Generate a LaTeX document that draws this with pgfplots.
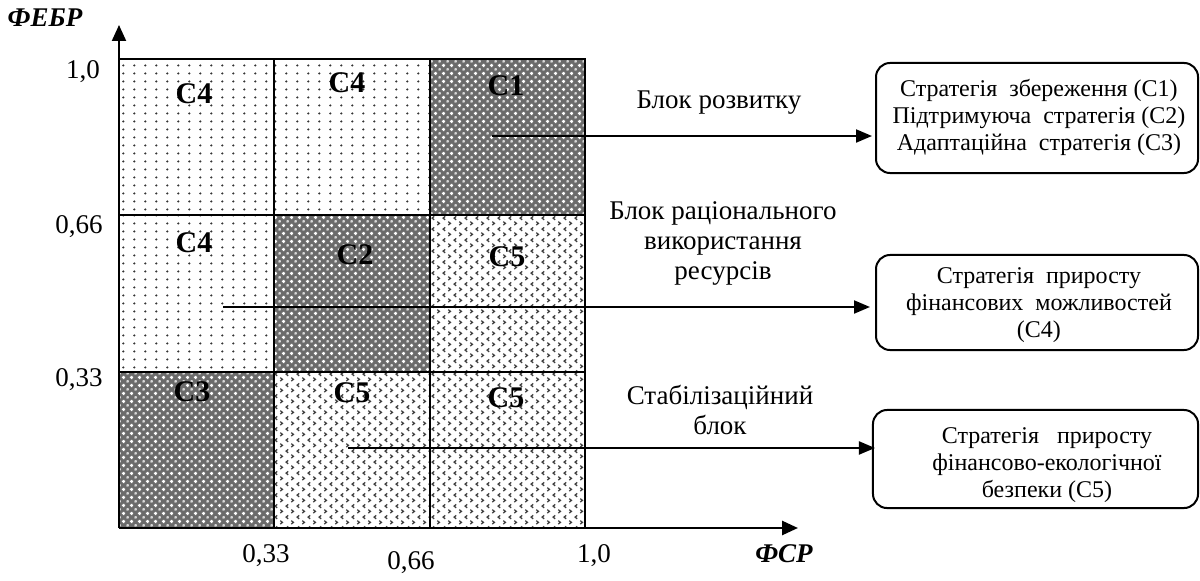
\documentclass[border=0pt]{standalone}
\usepackage{fontspec}
\setmainfont{Liberation Serif}
\usepackage{pgfplots}
\pgfplotsset{compat=1.18}
\usetikzlibrary{arrows.meta,patterns.meta}

\tikzdeclarepattern{name=dotgrid, type=uncolored,
  bounding box={(0pt,0pt) and (5.4pt,3.75pt)},
  tile size={(5.4pt,3.75pt)},
  code={\fill (2.7pt,1.875pt) circle (0.6pt);}}

\tikzdeclarepattern{name=wcross, type=uncolored,
  bounding box={(0pt,0pt) and (4pt,4pt)},
  tile size={(4pt,4pt)},
  code={\fill (1.55pt,1.1pt) rectangle (2.45pt,2.9pt);
        \fill (1.1pt,1.55pt) rectangle (2.9pt,2.45pt);
        \fill (0pt,0pt) circle (0.5pt); \fill (4pt,0pt) circle (0.5pt);
        \fill (0pt,4pt) circle (0.5pt); \fill (4pt,4pt) circle (0.5pt);}}

\tikzdeclarepattern{name=chevrons, type=uncolored,
  bounding box={(0pt,0pt) and (5.6pt,5.6pt)},
  tile size={(5.6pt,5.6pt)},
  code={\draw[line width=0.7pt] (0.7pt,0.5pt) -- (1.8pt,1.4pt) -- (0.7pt,2.3pt);
        \draw[line width=0.7pt] (4.9pt,3.3pt) -- (3.8pt,4.2pt) -- (4.9pt,5.1pt);}}

\begin{document}
\begin{tikzpicture}
\begin{axis}[scale only axis, width=600pt, height=285.5pt,
  xmin=-0.25536, xmax=2.31974, ymin=-0.09168, ymax=1.12580,
  axis lines=none, clip=false, no markers]
\path (rel axis cs:0,0) rectangle (rel axis cs:1,1);
% C4 cells (dotted)
\addplot[draw=black, line width=1pt, pattern=dotgrid, pattern color=black!80] coordinates {(0,0.6667) (0.3333,0.6667) (0.3333,1) (0,1) (0,0.6667)};
\addplot[draw=black, line width=1pt, pattern=dotgrid, pattern color=black!80] coordinates {(0.3333,0.6667) (0.6667,0.6667) (0.6667,1) (0.3333,1) (0.3333,0.6667)};
\addplot[draw=black, line width=1pt, pattern=dotgrid, pattern color=black!80] coordinates {(0,0.3333) (0.3333,0.3333) (0.3333,0.6667) (0,0.6667) (0,0.3333)};
% C1, C2, C3 cells (dark)
\addplot[draw=none, fill=black!58] coordinates {(0.6667,0.6667) (1,0.6667) (1,1) (0.6667,1) (0.6667,0.6667)};
\addplot[draw=black, line width=1pt, pattern=wcross, pattern color=white] coordinates {(0.6667,0.6667) (1,0.6667) (1,1) (0.6667,1) (0.6667,0.6667)};
\addplot[draw=none, fill=black!58] coordinates {(0.3333,0.3333) (0.6667,0.3333) (0.6667,0.6667) (0.3333,0.6667) (0.3333,0.3333)};
\addplot[draw=black, line width=1pt, pattern=wcross, pattern color=white] coordinates {(0.3333,0.3333) (0.6667,0.3333) (0.6667,0.6667) (0.3333,0.6667) (0.3333,0.3333)};
\addplot[draw=none, fill=black!58] coordinates {(0,0) (0.3333,0) (0.3333,0.3333) (0,0.3333) (0,0)};
\addplot[draw=black, line width=1pt, pattern=wcross, pattern color=white] coordinates {(0,0) (0.3333,0) (0.3333,0.3333) (0,0.3333) (0,0)};
% C5 cells (chevrons)
\addplot[draw=black, line width=1pt, pattern=chevrons, pattern color=black!75] coordinates {(0.6667,0.3333) (1,0.3333) (1,0.6667) (0.6667,0.6667) (0.6667,0.3333)};
\addplot[draw=black, line width=1pt, pattern=chevrons, pattern color=black!75] coordinates {(0.3333,0) (0.6667,0) (0.6667,0.3333) (0.3333,0.3333) (0.3333,0)};
\addplot[draw=black, line width=1pt, pattern=chevrons, pattern color=black!75] coordinates {(0.6667,0) (1,0) (1,0.3333) (0.6667,0.3333) (0.6667,0)};

% cell labels
\begin{scope}[every node/.style={font=\fontsize{15}{17}\selectfont\bfseries}]
\node at (axis cs:0.161,0.9254) {C4};
\node at (axis cs:0.4893,0.9488) {C4};
\node at (axis cs:0.8305,0.9424) {C1};
\node at (axis cs:0.161,0.6077) {C4};
\node at (axis cs:0.5064,0.5821) {C2};
\node at (axis cs:0.8326,0.5778) {C5};
\node at (axis cs:0.1567,0.2900) {C3};
\node at (axis cs:0.5,0.2878) {C5};
\node at (axis cs:0.8305,0.2772) {C5};
\end{scope}

% axes
\draw[line width=1.3pt, -{Triangle[length=8pt,width=7pt]}] (axis cs:0,0) -- (axis cs:1.4571,0);
\draw[line width=1pt, -{Triangle[length=8pt,width=7pt]}] (axis cs:0,0) -- (axis cs:0,1.0725);

% tick labels
\begin{scope}[every node/.style={font=\fontsize{13.5}{15}\selectfont}]
\node at (axis cs:-0.0773,0.9723) {1,0};
\node at (axis cs:-0.0858,0.6418) {0,66};
\node at (axis cs:-0.0858,0.3156) {0,33};
\node at (axis cs:0.3155,-0.0597) {0,33};
\node at (axis cs:0.6266,-0.0746) {0,66};
\node at (axis cs:1.0193,-0.0597) {1,0};
\end{scope}
\node[font=\fontsize{13.5}{15}\selectfont\bfseries\itshape] at (axis cs:-0.1588,1.0874) {ФЕБР};
\node[font=\fontsize{13.5}{15}\selectfont\bfseries\itshape] at (axis cs:1.4270,-0.0554) {ФСР};

% arrows
\draw[line width=1pt, -{Triangle[length=8pt,width=6.5pt]}] (axis cs:0.8004,0.8358) -- (axis cs:1.6159,0.8358);
\draw[line width=1pt, -{Triangle[length=8pt,width=6.5pt]}] (axis cs:0.2232,0.4712) -- (axis cs:1.6116,0.4712);
\draw[line width=1pt, -{Triangle[length=8pt,width=6.5pt]}] (axis cs:0.4914,0.1706) -- (axis cs:1.6223,0.1706);

% block labels
\begin{scope}[every node/.style={font=\fontsize{13.5}{15}\selectfont, align=center}]
\node at (axis cs:1.2876,0.9062) {Блок розвитку};
\node at (axis cs:1.2961,0.6077) {Блок раціонального\\використання\\ресурсів};
\node at (axis cs:1.2897,0.2516) {Стабілізаційний\\блок};
\end{scope}

% boxes
\draw[line width=1pt, rounded corners=7pt] (axis cs:1.6245,0.7569) rectangle (axis cs:2.3155,0.9915);
\draw[line width=1pt, rounded corners=7pt] (axis cs:1.6245,0.3795) rectangle (axis cs:2.3155,0.5821);
\draw[line width=1pt, rounded corners=7pt] (axis cs:1.6180,0.0426) rectangle (axis cs:2.3155,0.2516);
\begin{scope}[every node/.style={font=\fontsize{12}{13.5}\selectfont, align=center}]
\node at (axis cs:1.9742,0.8763) {Стратегія\ \ збереження (С1)\\Підтримуюча\ \ стратегія (С2)\\Адаптаційна\ \ стратегія (С3)};
\node at (axis cs:1.9742,0.4755) {Стратегія\ \ приросту\\фінансових\ \ можливостей\\(С4)};
\node at (axis cs:1.9914,0.1343) {Стратегія\ \ \ приросту\\фінансово-екологічної\\безпеки (С5)};
\end{scope}
\end{axis}
\end{tikzpicture}
\end{document}
